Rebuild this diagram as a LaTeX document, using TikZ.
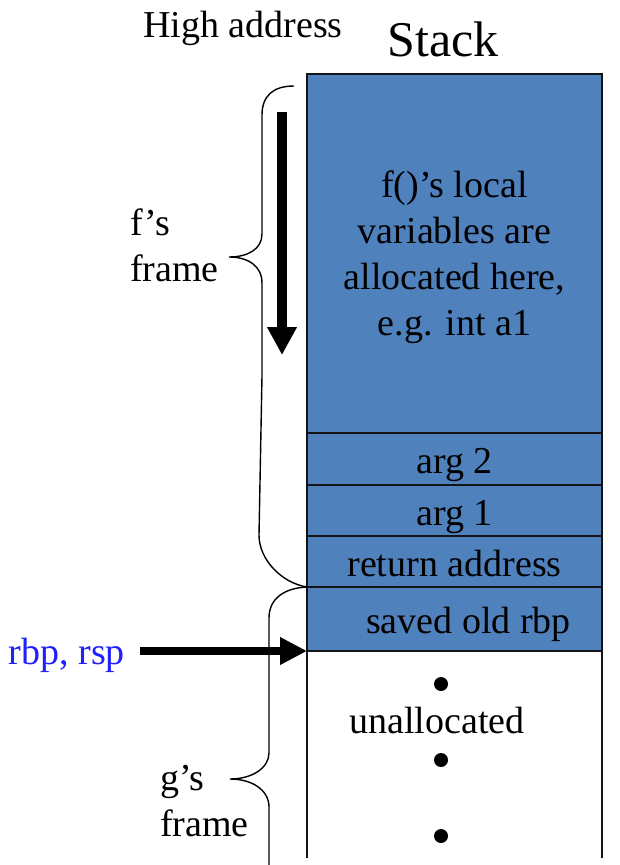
\documentclass[tikz,border=0pt]{standalone}
\usepackage{fontspec}
\setmainfont{Liberation Serif}
\usetikzlibrary{positioning,arrows.meta}
\definecolor{skazul}{HTML}{4F81BD}
\definecolor{skborda}{HTML}{141414}
\definecolor{skreg}{HTML}{1F1FFF}
\tikzset{
  skcelula/.style={draw=skborda, fill=skazul, line width=1.8pt, minimum width=295pt, inner sep=0pt,
                   outer sep=0pt, align=center, text depth=0pt, font=\fontsize{38}{46}\selectfont},
  sktexto/.style={font=\fontsize{38}{46}\selectfont, inner sep=0pt, align=left},
  skseta/.style={-{Triangle[width=26pt,length=27pt]}, line width=8pt},
  skchave/.style={line width=1.4pt},
}

\begin{document}
\begin{tikzpicture}[x=1pt, y=-1pt,
            skarg/.style={skcelula, text height=29pt},
            skparede/.style={draw=skborda, line width=1.8pt},
            skponto/.style={fill=black}
        ]
            \useasboundingbox (0,0) rectangle (619,865);
            \node[sktexto] (alto) at (243,28) {High address};
            \node[sktexto, font=\fontsize{50}{60}\selectfont] (pilha) at (443,39) {Stack};
            \node[skcelula, minimum height=359pt] (locais) at (454.5,253.5) {f()’s local\\variables are\\allocated here,\\e.g. int a1};
            \node[skarg, minimum height=52pt] (arg2) at (454.5,459) {arg 2};
            \node[skarg, minimum height=51pt] (arg1) at (454.5,510.5) {arg 1};
            \node[skarg, minimum height=51pt] (retorno) at (454.5,561.5) {return address};
            \node[skarg, minimum height=64pt] (oldrbp) at (454.5,619) {\hspace*{28pt}saved old rbp};
            \coordinate (fundoesq) at (307,858);
            \coordinate (fundodir) at (602,858);
            \draw[skparede] (oldrbp.south west) -- (fundoesq);
            \draw[skparede] (oldrbp.south east) -- (fundodir);
            \fill[skponto] (441,684) circle (7pt);
            \fill[skponto] (441,760) circle (7pt);
            \fill[skponto] (441,836) circle (7pt);
            \node[sktexto] (livre) at (437,720) {unallocated};
            \node[sktexto, anchor=west] (framef) at (130,245) {f’s\\frame};
            \node[sktexto, anchor=west] (frameg) at (160,801) {g’s\\frame};
            \node[sktexto, text=skreg, anchor=east] (regs) at (125,655) {rbp, rsp};
            \draw[skseta] ([xshift=15pt]regs.east |- oldrbp.south west) -- (oldrbp.south west);
            \coordinate (cresceini) at (282,112);
            \coordinate (crescefim) at (282,355);
            \draw[skseta, line width=10pt, -{Triangle[width=28pt,length=28pt]}] (cresceini) -- (crescefim);
            \draw[skchave] (294,86) .. controls (273,86) and (262,96) .. (262,115) -- (262,234)
                .. controls (262,249) and (248,257) .. (229,257)
                .. controls (248,257) and (262,266) .. (262,283) -- (262,376) -- (259,535)
                .. controls (259,560) and (282,583) .. (retorno.south west);
            \draw[skchave] (retorno.south west) .. controls (285,588) and (269,598) .. (269,618) -- (269,753)
                .. controls (269,768) and (252,779) .. (230,779)
                .. controls (252,779) and (269,790) .. (269,807) -- (269,865);
        \end{tikzpicture}
\end{document}
